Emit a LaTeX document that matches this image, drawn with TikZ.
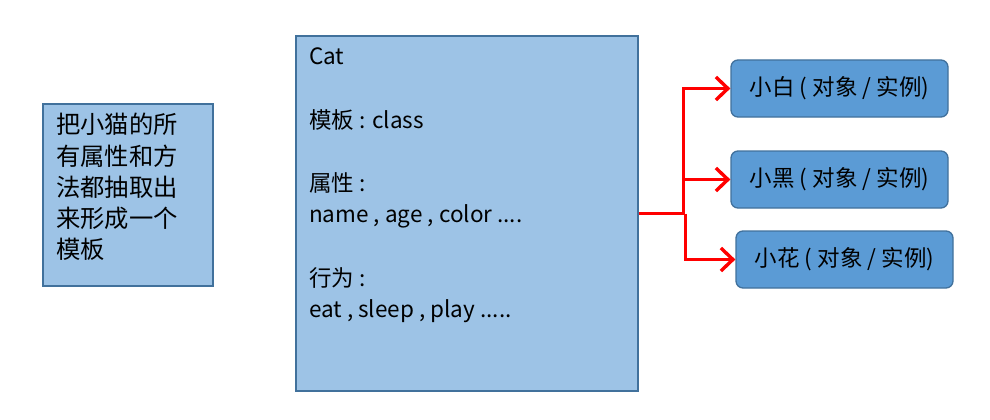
\documentclass[tikz,border=0pt]{standalone}
\usepackage{fontspec}
\setmainfont{Noto Sans CJK SC}
\usetikzlibrary{arrows.meta}
\definecolor{lightfill}{HTML}{9DC3E6}
\definecolor{darkfill}{HTML}{5B9BD5}
\definecolor{edge}{HTML}{41719C}
\definecolor{arrred}{HTML}{FF0000}
\begin{document}
\begin{tikzpicture}[x=1pt,y=-1pt,
  plainbox/.style={draw=edge,line width=1.3pt,fill=lightfill,inner sep=0pt},
  objbox/.style={draw=edge,line width=1.3pt,fill=darkfill,rounded corners=7pt,inner sep=0pt,
    minimum width=217pt,minimum height=57pt,font=\fontsize{22.5}{24}\selectfont},
  bodytext/.style={align=left,inner sep=0pt,anchor=north west},
  redarrow/.style={draw=arrred,line width=3pt,-{Straight Barb[length=12pt,width=23pt,line width=3.4pt]}}
]
\useasboundingbox (0,0) rectangle (990,420);
% left box
\node[plainbox,minimum width=170pt,minimum height=182pt] (desc) at (128,195) {};
\node[bodytext,font=\fontsize{24.3}{31.3}\selectfont] (desctext) at (56,113)
  {把小猫的所\\有属性和方\\法都抽取出\\来形成一个\\模板};
% cat box
\node[plainbox,minimum width=342pt,minimum height=355pt] (cat) at (467,213.5) {};
\node[bodytext,font=\fontsize{22.5}{31.6}\selectfont] (cattext) at (309,48)
  {Cat\\ \\模板 : class\\ \\属性 :\\name , age , color ....\\ \\行为 :\\eat , sleep , play .....};
% object boxes
\node[objbox] (w1) at (839.5,88.5) {小白 ( 对象 / 实例)};
\node[objbox] (w2) at (839.5,179.5) {小黑 ( 对象 / 实例)};
\node[objbox] (w3) at (844.5,259.5) {小花 ( 对象 / 实例)};
% connectors
\draw[draw=arrred,line width=3pt] (cat.east) -- ++(46,0) coordinate (j);
\draw[redarrow] ([xshift=-1.5pt]j) |- (w1.west);
\draw[redarrow] ([xshift=-1.5pt]j) |- (w2.west);
\draw[redarrow] ([xshift=1pt]j) |- (w3.west);
\end{tikzpicture}
\end{document}
